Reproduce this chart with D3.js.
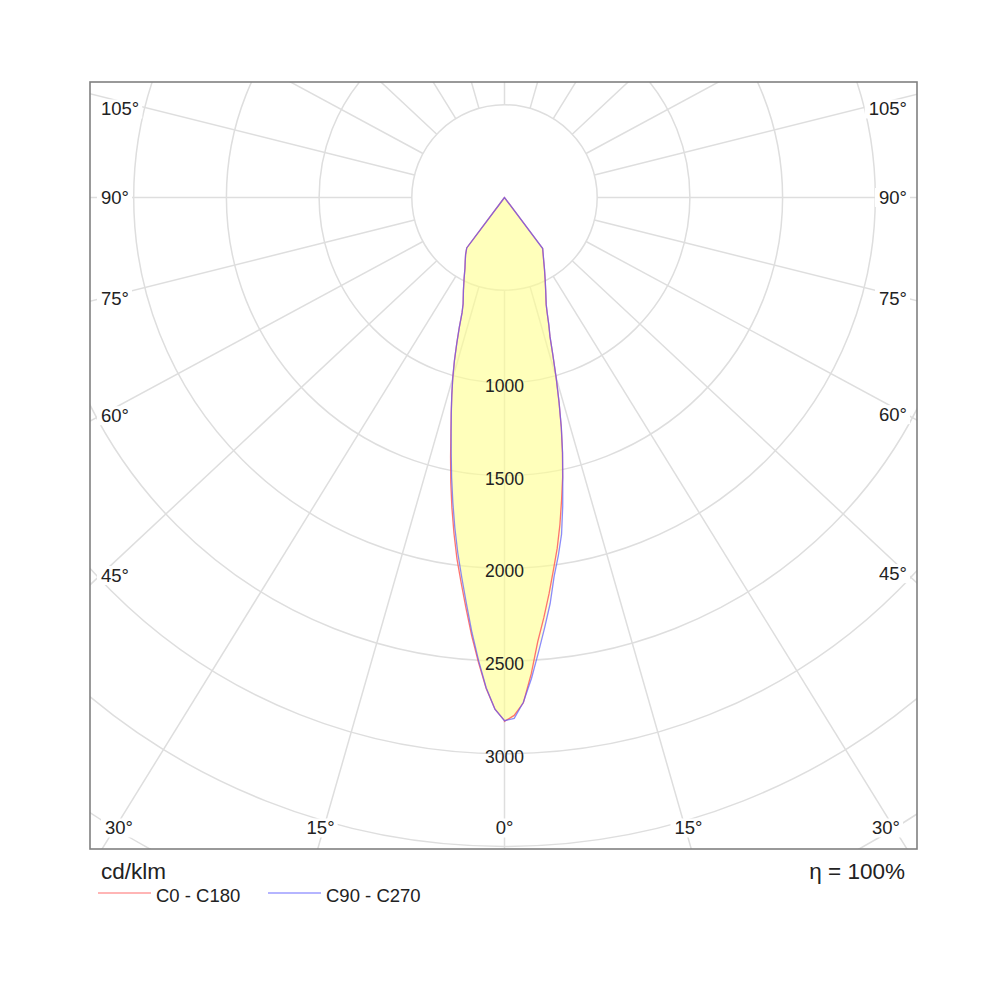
<!DOCTYPE html>
<html><head><meta charset="utf-8">
<script src="https://cdn.jsdelivr.net/npm/d3@7"></script>
<style>
body{margin:0;background:#fff}
text{font-family:"Liberation Sans",Arial,Helvetica,sans-serif;fill:#222}
</style>
</head><body>
<svg id="c" width="1000" height="1000"></svg>
<script>
// ---- data (cd/klm) ----
const gammaAngles = [0,1,2,3,4,5,6,7,8,9,10,11,12,13,14,15,16,17,18,19,20,22.5,25,27.5,30,32.5,35,37.5,45,60,75,90];
const c0   = [2825,2794,2727,2573,2402,2275,2149,2024,1910,1786,1657,1536,1405,1272,1135,1005,885,784,723,662,614,542,484,436,395,362,335,0,0,0,0,0];
const c180 = [2822,2760,2650,2510,2370,2225,2090,1965,1830,1695,1560,1425,1300,1195,1098,1008,916,823,738,657,610,541,482,432,396,365,332,0,0,0,0,0];
const c90  = [2822,2810,2724,2598,2458,2327,2202,2056,1950,1839,1690,1540,1408,1274,1137,1007,886,785,724,663,615,543,485,437,396,363,336,0,0,0,0,0];
const c270 = [2822,2760,2646,2500,2352,2200,2061,1932,1799,1665,1535,1408,1294,1192,1098,1008,916,823,738,657,610,541,482,432,396,365,332,0,0,0,0,0];
const seriesNames = ["C0 - C180","C90 - C270"];
const seriesColors = ["#ff5a5a","#5a5aff"];
const ringValues = [500,1000,1500,2000,2500,3000,3500,4000];
const ringLabels = [1000,1500,2000,2500,3000];
const spokeAngles = [0,15,30,45,60,75,90,105,120,135,150,165,180,195,210,225,240,255,270,285,300,315,330,345];
const angleLabels = [0,15,30,45,60,75,90,105];
const unitLabel = "cd/klm";
const etaLabel = "η = 100%";

// ---- layout ----
const svg = d3.select("#c");
const box = {left:90,right:917,top:82,bottom:849};
const cx = 504.5, cy = 197.5, k = 1.07;
const r = d3.scaleLinear().domain([0,500]).range([0,92.7]);
const rad = d => d*Math.PI/180;
function pt(theta, I, side){
  const rr = r(I);
  return [cx + side*k*rr*Math.sin(rad(theta)), cy + rr*Math.cos(rad(theta))];
}

svg.append("defs").append("clipPath").attr("id","clip")
  .append("rect").attr("x",box.left).attr("y",box.top)
  .attr("width",box.right-box.left).attr("height",box.bottom-box.top);

const grid = svg.append("g").attr("clip-path","url(#clip)");
grid.selectAll("circle").data(ringValues).join("circle")
  .attr("cx",cx).attr("cy",cy).attr("r",d=>r(d))
  .attr("fill","none").attr("stroke","#dedede").attr("stroke-width",1.5);
grid.selectAll("line").data(spokeAngles).join("line")
  .each(function(a){
    let ux = k*Math.sin(rad(a)), uy = Math.cos(rad(a));
    const n = Math.hypot(ux,uy); ux/=n; uy/=n;
    d3.select(this)
      .attr("x1",cx+ux*r(500)).attr("y1",cy+uy*r(500))
      .attr("x2",cx+ux*r(7000)).attr("y2",cy+uy*r(7000));
  })
  .attr("stroke","#dedede").attr("stroke-width",1.5);

// ---- curves ----
const planes = [[c180,c0],[c270,c90]];
const line = d3.line().x(d=>d[0]).y(d=>d[1]);
function curvePts(left,right){
  const pts = [];
  for(let i=gammaAngles.length-1;i>=0;i--) pts.push(pt(gammaAngles[i],left[i],-1));
  for(let i=0;i<gammaAngles.length;i++) pts.push(pt(gammaAngles[i],right[i],1));
  return pts;
}
const curves = svg.append("g");
planes.forEach((p,i)=>{
  curves.append("path").attr("d",line(curvePts(p[0],p[1]))+"Z")
    .attr("fill","#ffff90").attr("fill-opacity",0.38).attr("stroke","none");
});
planes.forEach((p,i)=>{
  curves.append("path").attr("d",line(curvePts(p[0],p[1]))+"Z")
    .attr("fill","none").attr("stroke",seriesColors[i])
    .attr("stroke-opacity",i===0?0.85:0.7).attr("stroke-width",1.3);
});

// ---- ring labels ----
svg.append("g").selectAll("text").data(ringLabels).join("text")
  .attr("x",cx).attr("y",d=>cy+r(d)+3).attr("dy","0.35em")
  .attr("text-anchor","middle").style("font-size","17.5px").text(d=>d);

// ---- angle labels ----
const lab = svg.append("g");
const items = [];
angleLabels.forEach(a=>{ (a===0?[1]:[-1,1]).forEach(s=>items.push({a,s})); });
items.forEach(({a,s})=>{
  const ux = s*k*Math.sin(rad(a)), uy = Math.cos(rad(a));
  const edgeX = s<0 ? cx-box.left : box.right-cx;
  const tSide = Math.abs(ux)>1e-9 ? edgeX/Math.abs(ux) : Infinity;
  const tVert = uy>0 ? (box.bottom-cy)/uy : (cy-box.top)/(-uy);
  let x,y,anchor;
  if(tSide < tVert){
    x = s<0 ? box.left+11 : box.right-10;
    anchor = s<0 ? "start" : "end";
    const t = (Math.abs((s<0?box.left+10:box.right-10)-cx))/Math.abs(ux);
    y = Math.max(box.top+27, Math.min(box.bottom-27, cy+uy*t));
  } else {
    y = box.bottom-21;
    const t = (box.bottom-10-cy)/uy;
    x = Math.max(box.left+29, Math.min(box.right-31, cx+ux*t));
    anchor = "middle";
  }
  const g = lab.append("g");
  const tx = g.append("text").attr("x",x).attr("y",y).attr("dy","0.35em")
    .attr("text-anchor",anchor).style("font-size","18.5px").text(a+"°");
  const bb = tx.node().getBBox();
  g.insert("rect","text").attr("x",bb.x-4).attr("y",bb.y+1)
    .attr("width",bb.width+7).attr("height",bb.height-2).attr("fill","#fff");
});

// ---- frame ----
svg.append("rect").attr("x",box.left).attr("y",box.top)
  .attr("width",box.right-box.left).attr("height",box.bottom-box.top)
  .attr("fill","none").attr("stroke","#808080").attr("stroke-width",1.6);

// ---- footer ----
svg.append("text").attr("x",box.left+11).attr("y",879).style("font-size","22.5px").text(unitLabel);
svg.append("text").attr("x",box.right-12).attr("y",879).attr("text-anchor","end").style("font-size","22.5px").text(etaLabel);
const leg = svg.append("g");
seriesNames.forEach((n,i)=>{
  const x0 = 98 + i*170;
  leg.append("line").attr("x1",x0).attr("x2",x0+53).attr("y1",893).attr("y2",893)
    .attr("stroke",seriesColors[i]).attr("stroke-opacity",0.6).attr("stroke-width",1.6);
  leg.append("text").attr("x",x0+58).attr("y",901.5).style("font-size","18.5px").text(n);
});
</script>
</body></html>
